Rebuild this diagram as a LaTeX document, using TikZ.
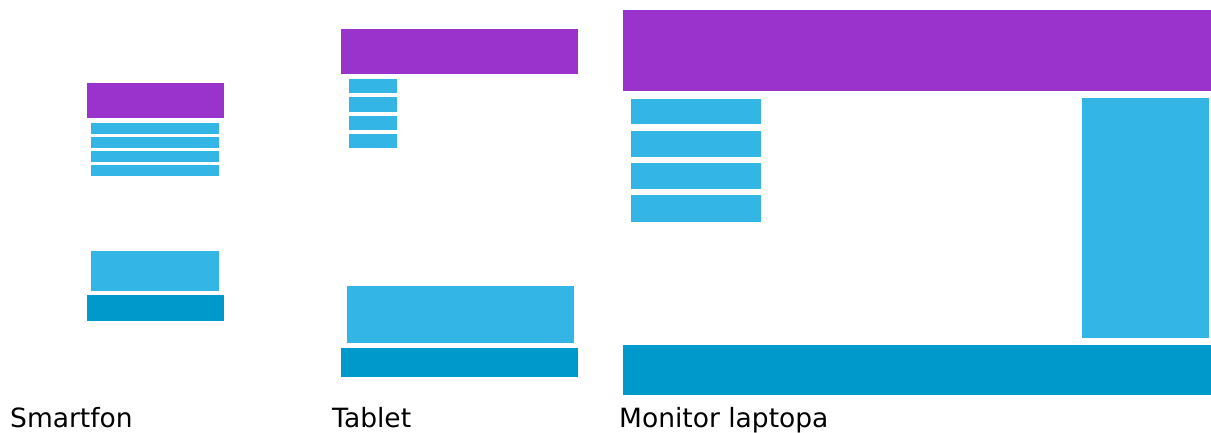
\documentclass[tikz,border=0pt]{standalone}
\usepackage{fontspec}
\setmainfont{DejaVu Sans}
\definecolor{hpurple}{HTML}{9933CC}
\definecolor{hlight}{HTML}{33B5E5}
\definecolor{hdark}{HTML}{0099CC}
\tikzset{
  hdr/.style={fill=hpurple},
  lbox/.style={fill=hlight},
  dbox/.style={fill=hdark},
  lbl/.style={anchor=base west, inner sep=0pt, font=\fontsize{26.5}{30}\selectfont, text=black}
}
\begin{document}
\begin{tikzpicture}[x=1pt,y=-1pt]
\useasboundingbox[fill=white] (0,0) rectangle (1211,432);
% Smartphone
\fill[hdr] (87,83) rectangle (224,118);
\fill[lbox] (91,123) rectangle (219,134);
\fill[lbox] (91,137) rectangle (219,148);
\fill[lbox] (91,151) rectangle (219,162);
\fill[lbox] (91,165) rectangle (219,176);
\fill[lbox] (91,251) rectangle (219,291);
\fill[dbox] (87,295) rectangle (224,321);
% Tablet
\fill[hdr] (341,29) rectangle (578,74);
\fill[lbox] (349,79) rectangle (397,93);
\fill[lbox] (349,97) rectangle (397,112);
\fill[lbox] (349,116) rectangle (397,130);
\fill[lbox] (349,134) rectangle (397,148);
\fill[lbox] (347,286) rectangle (574,343);
\fill[dbox] (341,348) rectangle (578,377);
% Monitor
\fill[hdr] (623,10) rectangle (1211,91);
\fill[lbox] (631,99) rectangle (761,124);
\fill[lbox] (631,131) rectangle (761,157);
\fill[lbox] (631,163) rectangle (761,189);
\fill[lbox] (631,195) rectangle (761,222);
\fill[lbox] (1082,98) rectangle (1209,338);
\fill[dbox] (623,345) rectangle (1211,395);
% Labels
\node[lbl] (smart) at (10,427) {Smartfon};
\node[lbl] (tablet) at (332,427) {Tablet};
\node[lbl] (monitor) at (619,427) {Monitor laptopa};
\end{tikzpicture}
\end{document}
